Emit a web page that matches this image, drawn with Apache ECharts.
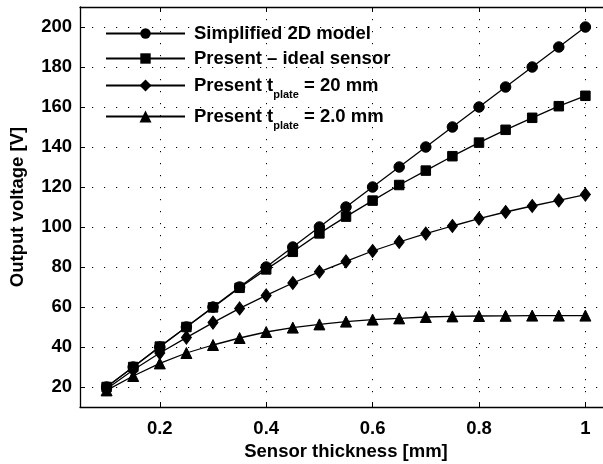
<!DOCTYPE html>
<html>
<head>
<meta charset="utf-8">
<script src="https://cdn.jsdelivr.net/npm/echarts@6/dist/echarts.min.js"></script>
<style>
  html, body { margin: 0; padding: 0; background: #fff; }
  #chart { width: 603px; height: 464px; }
</style>
</head>
<body>
<div id="chart"></div>
<script>
// Sensor thickness [mm]
const thickness = [0.1, 0.15, 0.2, 0.25, 0.3, 0.35, 0.4, 0.45, 0.5, 0.55, 0.6, 0.65, 0.7, 0.75, 0.8, 0.85, 0.9, 0.95, 1.0];
// Output voltage [V] for each model
const simplified2D = [20, 30, 40, 50, 60, 70, 80, 90, 100, 110, 120, 130, 140, 150, 160, 170, 180, 190, 200];
const presentIdeal = [20, 30, 40.2, 50, 59.8, 69.6, 78.8, 87.6, 96.8, 105.2, 113.2, 121, 128.2, 135.4, 142.2, 148.6, 154.6, 160.4, 165.6];
const presentPlate20 = [19, 28.5, 37, 44.7, 52.2, 59.3, 65.8, 72, 77.6, 82.8, 88, 92.5, 96.7, 100.5, 104.2, 107.5, 110.5, 113.3, 116.2];
const presentPlate2 = [18.3, 25.5, 31.8, 37, 41, 44.5, 47.5, 49.7, 51.3, 52.7, 53.7, 54.3, 55, 55.3, 55.5, 55.6, 55.7, 55.7, 55.7];

const xTicks = [0.2, 0.4, 0.6, 0.8, 1];
const xTickLabels = ['0.2', '0.4', '0.6', '0.8', '1'];
const yTicks = [20, 40, 60, 80, 100, 120, 140, 160, 180, 200];

const seriesNames = [
  'Simplified 2D model',
  'Present \u2013 ideal sensor',
  'Present t{sub|plate} = 20 mm',
  'Present t{sub|plate} = 2.0 mm'
];

const FONT = '"Liberation Sans", Arial, Helvetica, sans-serif';
const INK = '#000';

function pairs(ys) { return thickness.map((x, i) => [x, ys[i]]); }

// Sparse dotted grid lines
const dotted = { color: '#000', width: 1, type: [1.2, 10.8] };

const chart = echarts.init(document.getElementById('chart'), null, { renderer: 'canvas' });

const legendTops = [24, 49, 71, 102];
const legendIconHeights = [13, 13, 15, 15];
const legends = seriesNames.map((name, i) => ({
  data: [name],
  left: 105,
  top: legendTops[i],
  padding: 0,
  orient: 'vertical',
  itemWidth: 79,
  itemHeight: legendIconHeights[i],
  selectedMode: false,
  textStyle: {
    fontFamily: FONT,
    fontWeight: 'bold',
    fontSize: 18.5,
    color: INK,
    padding: [0, 0, 0, 4],
    rich: {
      sub: { fontFamily: FONT, fontWeight: 'bold', fontSize: 11, color: INK, lineHeight: 11, padding: [18, 0, 0, 0] }
    }
  }
}));

const symbols = ['circle', 'rect', 'diamond', 'triangle'];
const symbolSizes = [10.5, 9.5, [10, 13], 11];
const values = [simplified2D, presentIdeal, presentPlate20, presentPlate2];

const option = {
  backgroundColor: '#fff',
  animation: false,
  textStyle: { fontFamily: FONT },
  grid: { left: 80, top: 7, width: 532, height: 400, containLabel: false, outerBoundsMode: 'none' },
  legend: legends,
  xAxis: [
    {
      type: 'value',
      min: 0.05,
      max: 1.05,
      name: 'Sensor thickness [mm]',
      nameLocation: 'middle',
      nameGap: 35,
      nameTextStyle: { fontFamily: FONT, fontWeight: 'bold', fontSize: 18.5, color: INK },
      axisLine: { show: true, onZero: false, lineStyle: { color: INK, width: 1.3 } },
      axisTick: { show: true, inside: true, length: 5, customValues: xTicks, lineStyle: { color: INK, width: 1 } },
      axisLabel: {
        customValues: xTicks,
        margin: 12,
        fontFamily: FONT, fontWeight: 'bold', fontSize: 18.5, color: INK,
        formatter: v => xTickLabels[xTicks.findIndex(t => Math.abs(t - v) < 1e-9)]
      },
      splitLine: { show: true, lineStyle: dotted }
    },
    {
      type: 'value',
      position: 'top',
      min: 0.05,
      max: 1.05,
      axisLine: { show: true, onZero: false, lineStyle: { color: INK, width: 1.3 } },
      axisTick: { show: true, inside: true, length: 5, customValues: xTicks, lineStyle: { color: INK, width: 1 } },
      axisLabel: { show: false },
      splitLine: { show: false }
    }
  ],
  yAxis: {
    type: 'value',
    min: 10,
    max: 210,
    name: 'Output voltage [V]',
    nameLocation: 'middle',
    nameGap: 53,
    nameTextStyle: { fontFamily: FONT, fontWeight: 'bold', fontSize: 18.5, color: INK },
    axisLine: { show: true, onZero: false, lineStyle: { color: INK, width: 1.3 } },
    axisTick: { show: true, inside: true, length: 5, customValues: yTicks, lineStyle: { color: INK, width: 1 } },
    axisLabel: {
      customValues: yTicks,
      margin: 8,
      fontFamily: FONT, fontWeight: 'bold', fontSize: 18.5, color: INK
    },
    splitLine: { show: true, lineStyle: dotted }
  },
  series: seriesNames.map((name, i) => ({
    name: name,
    type: 'line',
    xAxisIndex: 0,
    data: pairs(values[i]),
    symbol: symbols[i],
    symbolSize: symbolSizes[i],
    showAllSymbol: true,
    lineStyle: { color: INK, width: 1.3 },
    itemStyle: { color: INK, borderColor: INK },
    emphasis: { disabled: true },
    z: 3 + (3 - i)
  }))
};

chart.setOption(option);
</script>
</body>
</html>
